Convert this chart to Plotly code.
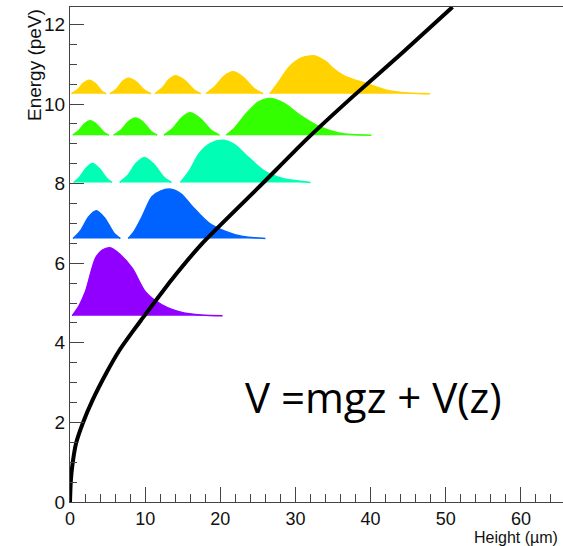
import plotly.graph_objects as go

# ---- data ----
# classical potential curve V = mgz + V(z)
curve_x = [0, 0.1, 0.3, 0.8, 1.7, 3.0, 4.8, 6.6, 8.4, 9.5, 13.5, 17.6, 25.6, 31.4, 37.7, 44.3, 50.9]
curve_e = [0, 0.5, 0.9, 1.47, 1.98, 2.56, 3.23, 3.82, 4.3, 4.58, 5.58, 6.5, 8.0, 9.1, 10.2, 11.3, 12.44]

# quantum states: baseline energy, colour, lobes (x, height above baseline)
state_names = ["n=1", "n=2", "n=3", "n=4", "n=5"]
state_levels = [4.68, 6.62, 8.03, 9.22, 10.26]
state_colors = ["#9100FF", "#0063FF", "#00FFB4", "#33FF00", "#FFD200"]

n1_lobes = [
    ([0.3, 1.2, 2.06, 3.4, 4.3, 5.3, 6.6, 8.3, 10.05, 12.3, 14.9, 17.5, 20.3],
     [0, 0.25, 0.61, 1.45, 1.65, 1.71, 1.55, 1.19, 0.60, 0.27, 0.085, 0.02, 0]),
]
n2_lobes = [
    ([0.4, 1.4, 2.5, 3.5, 4.6, 5.8, 6.7],
     [0, 0.20, 0.55, 0.70, 0.52, 0.15, 0]),
    ([7.75, 8.6, 9.6, 10.9, 12.1, 13.4, 14.8, 16.3, 18.5, 20.7, 23.0, 26.0],
     [0, 0.20, 0.55, 1.05, 1.20, 1.24, 1.12, 0.80, 0.39, 0.18, 0.05, 0]),
]
n3_lobes = [
    ([0.5, 1.3, 2.2, 3.0, 3.9, 4.9, 5.6],
     [0, 0.14, 0.37, 0.48, 0.35, 0.10, 0]),
    ([6.6, 7.7, 8.8, 9.9, 11.1, 12.5, 13.5],
     [0, 0.18, 0.48, 0.63, 0.47, 0.13, 0]),
    ([14.7, 15.9, 17.2, 18.7, 20.3, 21.9, 23.4, 26.0, 28.3, 32.0],
     [0, 0.30, 0.73, 0.98, 1.06, 0.95, 0.69, 0.27, 0.10, 0]),
]
n4_lobes = [
    ([0.37, 1.1, 1.9, 2.7, 3.6, 4.5, 5.2],
     [0, 0.10, 0.28, 0.36, 0.26, 0.07, 0]),
    ([5.8, 6.8, 7.8, 8.7, 9.7, 10.8, 11.6],
     [0, 0.13, 0.34, 0.43, 0.33, 0.09, 0]),
    ([12.5, 13.7, 14.9, 16.0, 17.3, 18.8, 19.9],
     [0, 0.17, 0.44, 0.56, 0.42, 0.12, 0]),
    ([20.8, 22.0, 23.5, 25.0, 26.6, 28.5, 30.6, 33.2, 35.9, 40.1],
     [0, 0.20, 0.55, 0.82, 0.92, 0.80, 0.50, 0.21, 0.05, 0]),
]
n5_lobes = [
    ([0.2, 1.0, 1.8, 2.6, 3.4, 4.2, 4.8],
     [0, 0.10, 0.27, 0.34, 0.25, 0.07, 0]),
    ([5.3, 6.2, 7.0, 7.8, 8.8, 9.9, 10.8],
     [0, 0.12, 0.31, 0.39, 0.30, 0.09, 0]),
    ([11.3, 12.3, 13.2, 14.05, 15.2, 16.5, 17.4],
     [0, 0.15, 0.36, 0.45, 0.34, 0.10, 0]),
    ([18.1, 19.3, 20.5, 21.7, 23.0, 24.5, 25.7],
     [0, 0.18, 0.44, 0.55, 0.42, 0.13, 0]),
    ([26.6, 27.6, 29.2, 30.8, 32.6, 34.1, 35.0, 36.3, 37.7, 39.4, 42.1, 45.0, 47.9],
     [0, 0.25, 0.68, 0.90, 0.95, 0.80, 0.64, 0.47, 0.36, 0.26, 0.09, 0.02, 0]),
]
state_lobes = [n1_lobes, n2_lobes, n3_lobes, n4_lobes, n5_lobes]

x_ticks = [0, 10, 20, 30, 40, 50, 60]
y_ticks = [0, 2, 4, 6, 8, 10, 12]

# ---- figure ----
fig = go.Figure()

for name, level, color, lobes in zip(state_names, state_levels, state_colors, state_lobes):
    for lx, lh in lobes:
        fig.add_trace(go.Scatter(
            x=lx, y=[level + h for h in lh],
            mode="lines", line=dict(color=color, width=1.5, shape="spline", smoothing=0.8),
            fill="toself", fillcolor=color, name=name, showlegend=False,
            hoverinfo="skip"))

fig.add_trace(go.Scatter(x=curve_x, y=curve_e, mode="lines",
                         line=dict(color="black", width=4, shape="spline", smoothing=0.5),
                         showlegend=False))

axis_color = "#444444"
fig.update_xaxes(range=[0, 65.6], tickvals=x_ticks, ticks="inside", ticklen=15,
                 tickcolor=axis_color, showline=True, linecolor=axis_color, linewidth=1,
                 mirror=True, showgrid=False, zeroline=False,
                 tickfont=dict(family="Liberation Sans", size=18, color="#111111"),
                 minor=dict(dtick=2, ticks="inside", ticklen=8, tickcolor=axis_color, showgrid=False))
fig.update_yaxes(range=[0, 12.44], tickvals=y_ticks, ticks="inside", ticklen=14,
                 tickcolor=axis_color, showline=True, linecolor=axis_color, linewidth=1,
                 showgrid=False, zeroline=False,
                 tickfont=dict(family="Liberation Sans", size=19, color="#111111"),
                 minor=dict(dtick=0.5, ticks="inside", ticklen=7, tickcolor=axis_color, showgrid=False))

fig.add_annotation(text="Energy (peV)", xref="paper", yref="paper",
                   x=-0.073, y=1.0, xanchor="center", yanchor="top", textangle=-90,
                   showarrow=False, font=dict(family="Liberation Sans", size=19, color="#111111"))
fig.add_annotation(text="Height (µm)", xref="paper", yref="paper",
                   x=0.993, y=-0.0725, xanchor="right", yanchor="middle",
                   showarrow=False, font=dict(family="Liberation Sans", size=16, color="#111111"))
fig.add_annotation(text="V =mgz + V(z)", xref="paper", yref="paper",
                   x=0.351, y=0.214, xanchor="left", yanchor="middle",
                   showarrow=False, font=dict(family="Open Sans", size=42, color="black"))

fig.update_layout(width=563, height=546, margin=dict(l=70, r=0, t=7, b=44),
                  plot_bgcolor="white", paper_bgcolor="white")

fig.write_html("out.html")
